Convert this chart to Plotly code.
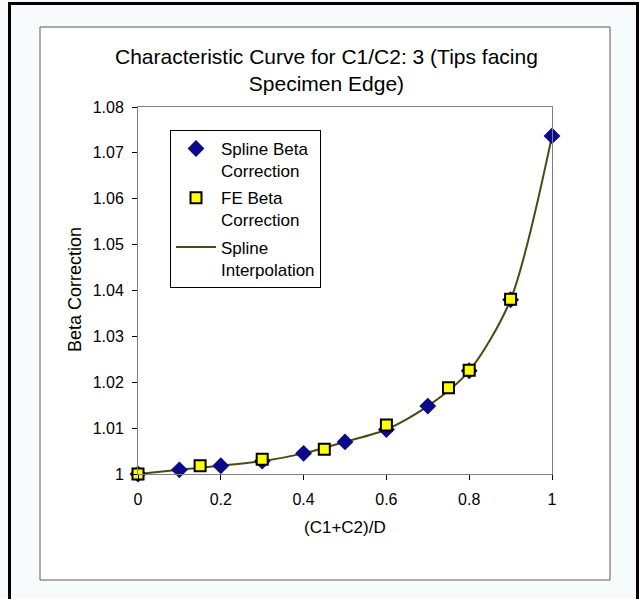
import plotly.graph_objects as go

# ---- data ----
spline_x = [0.0, 0.1, 0.2, 0.3, 0.4, 0.5, 0.6, 0.7, 0.8, 0.9, 1.0]
spline_y = [1.0000, 1.0009, 1.0018, 1.0028, 1.0045, 1.0070, 1.0097, 1.0148, 1.0225, 1.0380, 1.0737]
fe_x = [0.0, 0.15, 0.3, 0.45, 0.6, 0.75, 0.8, 0.9]
fe_y = [1.0000, 1.0018, 1.0032, 1.0054, 1.0107, 1.0188, 1.0226, 1.0381]
x_ticks = [0, 0.2, 0.4, 0.6, 0.8, 1]
x_tick_labels = ["0", "0.2", "0.4", "0.6", "0.8", "1"]
y_ticks = [1.00, 1.01, 1.02, 1.03, 1.04, 1.05, 1.06, 1.07, 1.08]
y_tick_labels = ["1", "1.01", "1.02", "1.03", "1.04", "1.05", "1.06", "1.07", "1.08"]

title_text = "Characteristic Curve for C1/C2: 3 (Tips facing<br>Specimen Edge)"
x_title = "(C1+C2)/D"
y_title = "Beta Correction"

FONT = "Liberation Sans, Arial, sans-serif"
W, H = 639, 599
L, R, T, B = 138, 552, 107, 474  # plot area in pixels


def px(xp):
    return (xp - L) / (R - L)


def py(yp):
    return (B - yp) / (B - T)


fig = go.Figure()

fig.add_trace(go.Scatter(
    x=spline_x, y=spline_y, mode="lines", name="Spline<br>Interpolation",
    line=dict(color="#4a4a14", width=2, shape="spline", smoothing=0.8),
    legendrank=3, legendgroup="c",
))
fig.add_trace(go.Scatter(
    x=spline_x, y=spline_y, mode="markers", name="Spline Beta<br>Correction",
    marker=dict(symbol="diamond", size=13, color="#0b0b8a", line=dict(width=0)),
    legendrank=1, legendgroup="a",
))
fig.add_trace(go.Scatter(
    x=fe_x, y=fe_y, mode="markers", name="FE Beta<br>Correction",
    marker=dict(symbol="square", size=11, color="#ffff00", line=dict(width=2, color="#000000")),
    legendrank=2, legendgroup="b",
))

shapes = [
    # inner chart box
    dict(type="rect", xref="paper", yref="paper", x0=px(40), x1=px(610), y0=py(580), y1=py(27),
         line=dict(color="#5a5a5a", width=1), fillcolor="#ffffff", layer="below"),
    # outer black frame (left, top, right)
    dict(type="path", xref="paper", yref="paper",
         path=f"M {px(9.5)} {py(600)} L {px(9.5)} {py(3.5)} L {px(637.5)} {py(3.5)} L {px(637.5)} {py(600)}",
         line=dict(color="#000000", width=3), layer="below"),
]

annotations = [
    dict(text=title_text, xref="paper", yref="paper", x=px(326), y=py(70), xanchor="center",
         yanchor="middle", showarrow=False, font=dict(family=FONT, size=21, color="#000000")),
    dict(text=x_title, xref="paper", yref="paper", x=px(345), y=py(527), xanchor="center",
         yanchor="middle", showarrow=False, font=dict(family=FONT, size=17, color="#000000")),
    dict(text=y_title, xref="paper", yref="paper", x=px(75), y=py(290), xanchor="center",
         yanchor="middle", showarrow=False, textangle=-90, font=dict(family=FONT, size=18, color="#000000")),
]

fig.update_layout(
    width=W, height=H,
    margin=dict(l=L, r=W - R, t=T, b=H - B, pad=0),
    paper_bgcolor="#f7fbfb",
    plot_bgcolor="#c0c0c0",
    font=dict(family=FONT, size=16, color="#000000"),
    shapes=shapes,
    annotations=annotations,
    showlegend=True,
    legend=dict(
        x=px(170), y=py(130), xanchor="left", yanchor="top",
        bgcolor="#ffffff", bordercolor="#000000", borderwidth=1,
        font=dict(family=FONT, size=17, color="#000000"),
        itemwidth=40, valign="top", tracegroupgap=2,
        traceorder="grouped",
    ),
)

fig.update_xaxes(
    range=[0, 1], tickvals=x_ticks, ticktext=x_tick_labels,
    showgrid=False, zeroline=False, showline=True, linecolor="#808080", linewidth=1, mirror=True,
    ticks="outside", ticklen=5, tickcolor="#000000", tickfont=dict(family=FONT, size=16),
    ticklabelstandoff=6,
)
fig.update_yaxes(
    range=[1.0, 1.08], tickvals=y_ticks, ticktext=y_tick_labels,
    showgrid=False, zeroline=False, showline=True, linecolor="#808080", linewidth=1, mirror=True,
    ticks="outside", ticklen=5, tickcolor="#000000", tickfont=dict(family=FONT, size=16),
    ticklabelstandoff=5,
)

fig.update_traces(cliponaxis=False)

fig.write_html(
    "out.html",
    config={"displayModeBar": False},
    post_script="document.body.style.margin='0px';document.body.style.overflow='hidden';",
)
